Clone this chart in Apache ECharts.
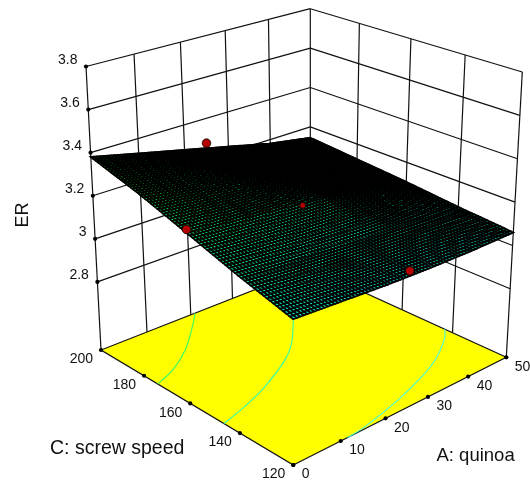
<!DOCTYPE html>
<html><head><meta charset="utf-8">
<style>html,body{margin:0;padding:0;background:#fff}#c{width:530px;height:483px}</style>
<script src="https://cdn.jsdelivr.net/npm/echarts@6/dist/echarts.min.js"></script>
</head><body><div id="c"></div>
<script>
const A_TICKS=[0,10,20,30,40,50];
const C_TICKS=[120,140,160,180,200];
const ER_TICKS=[2.8,3.0,3.2,3.4,3.6,3.8];
const ER_TICK_LABELS=['2.8','3','3.2','3.4','3.6','3.8'];
const ER_FLOOR=2.484, ER_TOP=3.8;
// ER read from the surface: one row per C_TICKS entry, one column per A_TICKS entry
const ER_C120=[3.08,3.07,3.06,3.055,3.055,3.06];
const ER_C140=[3.15,3.13,3.11,3.10,3.09,3.08];
const ER_C160=[3.23,3.21,3.19,3.17,3.13,3.105];
const ER_C180=[3.31,3.27,3.24,3.20,3.16,3.125];
const ER_C200=[3.38,3.33,3.28,3.23,3.18,3.145];
const ER_ROWS=[ER_C120,ER_C140,ER_C160,ER_C180,ER_C200];
// design points [A, C, ER]
const POINT_A0=[0,160,3.245], POINT_A25_TOP=[25,200,3.28], POINT_A25_FRONT=[25,120,3.08], POINT_CENTER=[25,160,3.17];
// floor contours [A, C]
const CONTOUR_1=[[21,200],[18.3,195.4],[10.8,184],[4.8,177.3],[0,174]];
const CONTOUR_2=[[33,178],[32,176.3],[26.2,166.8],[21.2,160.7],[12.5,153.3],[6,149.2],[0,146.3]];
const CONTOUR_3=[[50,143],[46.9,138.7],[40.2,132.4],[34.2,128.5],[25.7,124.3],[15.8,120.7],[11.5,120]];

// camera: one plane mapping for the floor, one for the top of the box
const FLOOR_PLANE={O:[293.3,465],U:[506.3,357.3],V:[101,350],UV:[310.3,268]};
const TOP_PLANE={O:[293,143],U:[522.3,72],V:[86,66.5],UV:[310.3,8.7]};
function planeFn(P){
  const ax=P.U[0]-P.UV[0],ay=P.U[1]-P.UV[1],bx=P.V[0]-P.UV[0],by=P.V[1]-P.UV[1],cx=P.O[0]-P.UV[0],cy=P.O[1]-P.UV[1];
  const det=ax*by-bx*ay, p=(cx*by-bx*cy)/det, q=(ax*cy-cx*ay)/det;
  return (u,v)=>{
    const d=1+(p-1)*u+(q-1)*v;
    return [0,1].map(i=>(P.O[i]+u*(p*P.U[i]-P.O[i])+v*(q*P.V[i]-P.O[i]))/d);
  };
}
const floorAt=planeFn(FLOOR_PLANE), topAt=planeFn(TOP_PLANE);
function project(A,C,ER){
  const u=A/50,v=(C-120)/80,w=(ER-ER_FLOOR)/(ER_TOP-ER_FLOOR);
  const f=floorAt(u,v),t=topAt(u,v);
  return [f[0]+(t[0]-f[0])*w,f[1]+(t[1]-f[1])*w];
}
const LINE='#111';
const one=(fn)=>({type:'custom',coordinateSystem:'cartesian2d',silent:true,data:[[0,0]],clip:false,animation:false,renderItem:(p,api)=>fn(api)});
const at=(api,A,C,ER)=>api.coord(project(A,C,ER));
function seg(api,a,b,w,color){const s=at(api,...a),e=at(api,...b);return {type:'line',shape:{x1:s[0],y1:s[1],x2:e[0],y2:e[1]},style:{stroke:color||LINE,lineWidth:w||1.2}};}
function dot(api,pt,r){const c=at(api,...pt);return {type:'circle',shape:{cx:c[0],cy:c[1],r:r||2.1},style:{fill:'#000'}};}
function txt(api,pt,dx,dy,s,align){const c=at(api,...pt);return {type:'text',x:c[0]+dx,y:c[1]+dy,style:{text:s,fill:'#111',font:'14px "Liberation Sans"',textAlign:align,textVerticalAlign:'middle'}};}
function erColor(er){ // cyan (low) to green (high)
  const t=Math.max(0,Math.min(1,(er-3.06)/(3.38-3.06)));
  return 'rgb(0,240,'+Math.round(225*(1-t))+')';
}
const walls=one(api=>{
  const ch=[];
  ER_TICKS.forEach(e=>{ch.push(seg(api,[0,200,e],[50,200,e]));ch.push(seg(api,[50,200,e],[50,120,e]));});
  A_TICKS.slice(1,-1).forEach(a=>ch.push(seg(api,[a,200,ER_FLOOR],[a,200,ER_TOP])));
  C_TICKS.slice(1,-1).forEach(c=>ch.push(seg(api,[50,c,ER_FLOOR],[50,c,ER_TOP])));
  ch.push(seg(api,[0,200,ER_FLOOR],[0,200,ER_TOP]));
  ch.push(seg(api,[50,200,ER_FLOOR],[50,200,ER_TOP]));
  ch.push(seg(api,[50,120,ER_FLOOR],[50,120,ER_TOP]));
  return {type:'group',children:ch};
});
const floor=one(api=>{
  const pts=[[0,120],[50,120],[50,200],[0,200]].map(q=>at(api,q[0],q[1],ER_FLOOR));
  return {type:'polygon',shape:{points:pts},style:{fill:'#ffff00',stroke:'#111',lineWidth:1.2}};
});
function contour(data,color){return one(api=>({type:'polyline',shape:{points:data.map(q=>at(api,q[0],q[1],ER_FLOOR)),smooth:.35},style:{stroke:color,fill:null,lineWidth:1.1}}));}
const ticks=one(api=>{
  const ch=[];
  ER_TICKS.forEach((e,i)=>{ch.push(dot(api,[0,200,e]));ch.push(txt(api,[0,200,e],-8.5,-6.5,ER_TICK_LABELS[i],'right'));});
  C_TICKS.forEach(c=>{ch.push(dot(api,[0,c,ER_FLOOR]));ch.push(txt(api,[0,c,ER_FLOOR],-8,9.5,String(c),'right'));});
  A_TICKS.forEach(a=>{ch.push(dot(api,[a,120,ER_FLOOR]));ch.push(txt(api,[a,120,ER_FLOOR],8.5,9.5,String(a),'left'));});
  return {type:'group',children:ch};
});
// surface: each cell of the read grid is drawn with a fine black mesh over its colour
const NA=14,NC=17;
const cells=[];
for(let i=0;i<C_TICKS.length-1;i++)for(let j=0;j<A_TICKS.length-1;j++)cells.push([i,j]);
const surface={type:'custom',coordinateSystem:'cartesian2d',silent:true,clip:false,animation:false,data:cells,
  encode:{x:0,y:1},
  renderItem:(p,api)=>{
    const i=api.value(0),j=api.value(1),ch=[];
    const A0=A_TICKS[j],A1=A_TICKS[j+1],C0=C_TICKS[i],C1=C_TICKS[i+1];
    const e00=ER_ROWS[i][j],e01=ER_ROWS[i][j+1],e10=ER_ROWS[i+1][j],e11=ER_ROWS[i+1][j+1];
    const E=(s,t)=>e00*(1-s)*(1-t)+e01*s*(1-t)+e10*(1-s)*t+e11*s*t;
    const P=(s,t)=>at(api,A0+(A1-A0)*s,C0+(C1-C0)*t,E(s,t));
    for(let a=0;a<NA;a++)for(let c=0;c<NC;c++){
      const s0=a/NA,s1=(a+1)/NA,t0=c/NC,t1=(c+1)/NC;
      ch.push({type:'polygon',shape:{points:[P(s0,t0),P(s1,t0),P(s1,t1),P(s0,t1)]},
        style:{fill:erColor(E((s0+s1)/2,(t0+t1)/2)),stroke:'#000',lineWidth:1.75}});
    }
    return {type:'group',children:ch};
  }};
const points=one(api=>{
  const mk=(pt,r)=>{const c=at(api,...pt);return {type:'circle',shape:{cx:c[0],cy:c[1],r},style:{fill:'#b30000',stroke:'#000',lineWidth:.8}};};
  return {type:'group',children:[mk(POINT_A25_TOP,4.3),mk(POINT_A0,4.3),mk(POINT_A25_FRONT,4.3),mk(POINT_CENTER,3)]};
});
const titles=one(api=>{
  const T=(x,y,s,rot,size)=>{const c=api.coord([x,y]);return {type:'text',x:c[0],y:c[1],rotation:rot||0,style:{text:s,fill:'#111',font:(size||18)+'px "Liberation Sans"',textAlign:rot?'center':'left',textVerticalAlign:'middle'}};};
  return {type:'group',children:[T(23,215,'ER',Math.PI/2,18),T(50,449,'C: screw speed',0,19.5),T(436.5,456,'A: quinoa',0,18.5)]};
});
const chart=echarts.init(document.getElementById('c'),null,{renderer:'canvas'});
chart.setOption({
  animation:false,backgroundColor:'#fff',
  grid:{left:0,right:0,top:0,bottom:0},
  xAxis:{type:'value',min:0,max:530,show:false},
  yAxis:{type:'value',min:0,max:483,inverse:true,show:false},
  series:[walls,floor,contour(CONTOUR_1,'#33ff66'),contour(CONTOUR_2,'#33ffaa'),contour(CONTOUR_3,'#44ffdd'),ticks,surface,points,titles]
});
</script></body></html>
